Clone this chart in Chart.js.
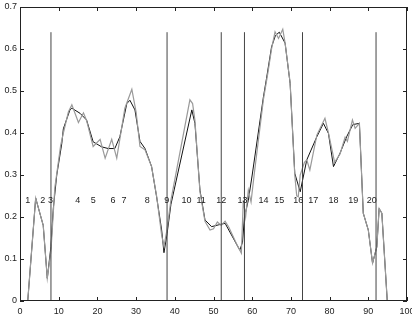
<!DOCTYPE html>
<html>
<head>
<meta charset="utf-8">
<script src="https://cdn.jsdelivr.net/npm/chart.js@4"></script>
<style>
  html, body { margin: 0; padding: 0; background: #fff; }
  #wrap { width: 412px; height: 322px; position: relative; }
</style>
</head>
<body>
<div id="wrap"><canvas id="grafica"></canvas></div>
<script>
// fitted (black) curve
const fitX = [2, 4.05, 6, 7.05, 8, 8.6, 9.5, 10.8, 11.2, 12.9, 13.4, 15.5, 17.2, 18.9, 21.1, 22.8, 24.5, 25.8, 27.6, 28.4, 29.7, 31, 32.3, 34, 35.3, 36.6, 37.2, 38, 39, 44.4, 45.2, 46.5, 47.8, 49.5, 51.2, 53, 56.8, 57.5, 58, 59, 60, 62.9, 63.7, 65, 66, 67, 68.5, 69.8, 71, 72.4, 74.1, 76.7, 78.4, 79.7, 81, 82.7, 84.4, 86, 87.7, 88.7, 90, 91.1, 92.2, 92.8, 93.5, 94.9];
const fitY = [0, 0.245, 0.18, 0.054, 0.13, 0.22, 0.3, 0.375, 0.41, 0.455, 0.459, 0.447, 0.431, 0.379, 0.367, 0.363, 0.363, 0.391, 0.47, 0.478, 0.455, 0.38, 0.363, 0.32, 0.248, 0.169, 0.115, 0.16, 0.23, 0.455, 0.423, 0.264, 0.193, 0.177, 0.181, 0.185, 0.121, 0.14, 0.2, 0.24, 0.3, 0.486, 0.53, 0.605, 0.632, 0.64, 0.614, 0.518, 0.304, 0.26, 0.336, 0.391, 0.423, 0.399, 0.32, 0.352, 0.391, 0.42, 0.423, 0.209, 0.169, 0.09, 0.129, 0.22, 0.209, 0];

// measured (gray) curve
const rawX = [2, 4.05, 6, 7.05, 8, 9, 10.5, 11.2, 12.5, 13.4, 15.1, 16.4, 17.2, 18.9, 20.7, 22, 23.7, 25, 27.1, 28.9, 30, 31, 32.3, 34, 35.3, 36.6, 37.2, 37.9, 39, 43.9, 44.6, 45.2, 46.5, 47.8, 49.1, 50, 51, 52, 53, 54, 56, 57.2, 57.7, 58.3, 59, 59.7, 60.5, 62.9, 64, 65, 65.9, 66.8, 67.9, 68.5, 69.8, 71, 71.5, 71.9, 72.4, 73.5, 74.1, 74.9, 76.7, 78.8, 79.7, 81.3, 82.7, 84, 84.6, 85.9, 86.6, 87.7, 88.7, 90, 91.1, 92.2, 92.8, 93.5, 94.9];
const rawY = [0, 0.245, 0.18, 0.054, 0.12, 0.27, 0.37, 0.4, 0.45, 0.467, 0.425, 0.448, 0.43, 0.368, 0.385, 0.34, 0.385, 0.34, 0.459, 0.504, 0.45, 0.368, 0.36, 0.32, 0.25, 0.157, 0.13, 0.165, 0.24, 0.479, 0.47, 0.43, 0.26, 0.19, 0.169, 0.172, 0.188, 0.18, 0.19, 0.175, 0.135, 0.114, 0.24, 0.2, 0.264, 0.236, 0.3, 0.48, 0.54, 0.6, 0.641, 0.625, 0.647, 0.614, 0.52, 0.3, 0.25, 0.248, 0.3, 0.33, 0.336, 0.312, 0.395, 0.435, 0.4, 0.33, 0.35, 0.39, 0.38, 0.431, 0.411, 0.423, 0.209, 0.169, 0.09, 0.129, 0.22, 0.209, 0];

// segment boundaries and segment numbers
const boundaryX = [8, 38, 52, 58, 73, 92];
const boundaryTop = 0.64;
const segLabels = ["1", "2", "3", "4", "5", "6", "7", "8", "9", "10", "11", "12", "13", "14", "15", "16", "17", "18", "19", "20"];
const segLabelX = [2, 5.9, 7.9, 14.9, 18.9, 24, 26.9, 32.9, 37.9, 43, 46.8, 52, 57.5, 62.9, 67, 71.9, 75.8, 81, 86.1, 90.9];
const segLabelY = 0.24;

const toPts = (xs, ys) => xs.map((x, i) => ({ x: x, y: ys[i] }));

const boundaryPts = [];
boundaryX.forEach(b => {
  boundaryPts.push({ x: b, y: 0 }, { x: b, y: boundaryTop }, { x: b, y: null });
});

const fontTick = { family: "Liberation Sans, Arial, sans-serif", size: 9 };

// marcas hacia dentro + caja + etiquetas de segmento
const marcas = {
  id: "marcas",
  afterDatasetsDraw(chart) {
    const { ctx, chartArea: a, scales } = chart;
    const xs = scales.x, ys = scales.y;
    ctx.save();
    ctx.strokeStyle = "#222";
    ctx.lineWidth = 1;
    ctx.strokeRect(a.left + 0.5, a.top + 0.5, a.right - a.left - 1, a.bottom - a.top - 1);
    ctx.beginPath();
    xs.ticks.forEach(t => {
      const px = Math.round(xs.getPixelForValue(t.value)) + 0.5;
      ctx.moveTo(px, a.bottom); ctx.lineTo(px, a.bottom - 4);
      ctx.moveTo(px, a.top); ctx.lineTo(px, a.top + 4);
    });
    ys.ticks.forEach(t => {
      const py = Math.round(ys.getPixelForValue(t.value)) + 0.5;
      ctx.moveTo(a.left, py); ctx.lineTo(a.left + 4, py);
      ctx.moveTo(a.right, py); ctx.lineTo(a.right - 4, py);
    });
    ctx.stroke();

    ctx.fillStyle = "#222";
    ctx.font = "9px Liberation Sans, Arial, sans-serif";
    ctx.textAlign = "center";
    ctx.textBaseline = "middle";
    segLabels.forEach((s, i) => {
      ctx.fillText(s, xs.getPixelForValue(segLabelX[i]), ys.getPixelForValue(segLabelY));
    });
    ctx.restore();
  }
};

new Chart(document.getElementById("grafica").getContext("2d"), {
  type: "line",
  data: {
    datasets: [
      {
        data: boundaryPts,
        borderColor: "#444",
        borderWidth: 1,
        pointRadius: 0,
        spanGaps: false,
        tension: 0
      },
      {
        data: toPts(rawX, rawY),
        borderColor: "#9a9a9a",
        borderWidth: 1.2,
        pointRadius: 0,
        tension: 0
      },
      {
        data: toPts(fitX, fitY),
        borderColor: "#111",
        borderWidth: 1,
        pointRadius: 0,
        tension: 0
      }
    ]
  },
  options: {
    responsive: true,
    maintainAspectRatio: false,
    animation: false,
    layout: { padding: { top: 7, right: 5, left: 0, bottom: 0 } },
    plugins: { legend: { display: false }, tooltip: { enabled: false } },
    scales: {
      x: {
        type: "linear",
        min: 0,
        max: 100,
        grid: { display: false, drawTicks: false },
        border: { display: false },
        ticks: { stepSize: 10, color: "#222", font: fontTick, padding: 5, maxRotation: 0 },
        afterFit(scale) { scale.height = 21; scale.paddingLeft = 0; scale.paddingRight = 0; }
      },
      y: {
        min: 0,
        max: 0.7,
        grid: { display: false, drawTicks: false },
        border: { display: false },
        ticks: { stepSize: 0.1, color: "#222", font: fontTick, padding: 3 },
        afterFit(scale) { scale.width = 20; scale.paddingTop = 0; scale.paddingBottom = 0; }
      }
    }
  },
  plugins: [marcas]
});
</script>
</body>
</html>
